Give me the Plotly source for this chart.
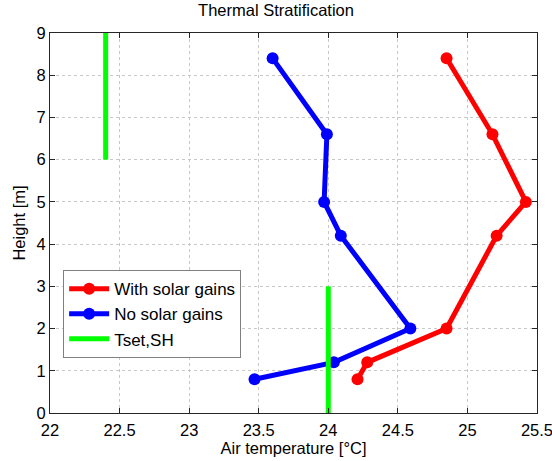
import plotly.graph_objects as go

height = [8.4, 6.6, 5.0, 4.2, 2.0, 1.2, 0.8]
t_solar = [24.85, 25.18, 25.42, 25.21, 24.85, 24.28, 24.21]
t_nosolar = [23.60, 23.99, 23.97, 24.09, 24.59, 24.04, 23.47]
tset_upper_x = [22.4, 22.4]
tset_upper_y = [6, 9]
tset_lower_x = [24.0, 24.0]
tset_lower_y = [0, 3]
x_ticks = [22, 22.5, 23, 23.5, 24, 24.5, 25, 25.5]
x_ticklabels = ["22", "22.5", "23", "23.5", "24", "24.5", "25", "25.5"]
y_ticks = [0, 1, 2, 3, 4, 5, 6, 7, 8, 9]

font = "Liberation Sans, Arial, sans-serif"

fig = go.Figure()
fig.add_trace(go.Scatter(x=t_solar, y=height, mode="lines+markers", name="With solar gains",
                         line=dict(color="#ff0000", width=5), marker=dict(color="#ff0000", size=12)))
fig.add_trace(go.Scatter(x=t_nosolar, y=height, mode="lines+markers", name="No solar gains",
                         line=dict(color="#0000ff", width=5), marker=dict(color="#0000ff", size=12)))
fig.add_trace(go.Scatter(x=tset_upper_x, y=tset_upper_y, mode="lines", name="Tset,SH",
                         line=dict(color="#00ff00", width=5)))
fig.add_trace(go.Scatter(x=tset_lower_x, y=tset_lower_y, mode="lines", name="Tset,SH",
                         line=dict(color="#00ff00", width=5), showlegend=False))

axis_common = dict(showline=True, linecolor="#262626", linewidth=1, mirror="ticks",
                   ticks="inside", ticklen=5, tickcolor="#262626",
                   showgrid=True, gridcolor="#c8c8c8", griddash="dot", gridwidth=1,
                   zeroline=False, ticklabeloverflow="allow", automargin=False,
                   tickfont=dict(size=16.5, color="#000000", family=font))

fig.update_layout(
    width=552, height=461,
    margin=dict(l=50, r=15, t=33, b=48, autoexpand=False),
    paper_bgcolor="white", plot_bgcolor="white",
    title=dict(text="Thermal Stratification", x=0.5, xanchor="center", y=0.99, yanchor="top",
               font=dict(size=16.5, color="#000000", family=font)),
    xaxis=dict(range=[22, 25.5], tickvals=x_ticks, ticktext=x_ticklabels, ticklabelstandoff=2,
               title=dict(text="Air temperature [°C]", font=dict(size=16.5, color="#000000", family=font), standoff=4),
               **axis_common),
    yaxis=dict(range=[0, 9], tickvals=y_ticks,
               title=dict(text="Height [m]", font=dict(size=16.5, color="#000000", family=font), standoff=6),
               **axis_common),
    legend=dict(x=0.027, y=0.376, xanchor="left", yanchor="top",
                bgcolor="white", bordercolor="#7f7f7f", borderwidth=1,
                font=dict(size=17, color="#000000", family=font),
                itemwidth=40, tracegroupgap=0),
    showlegend=True,
)

fig.write_html("out.html")
